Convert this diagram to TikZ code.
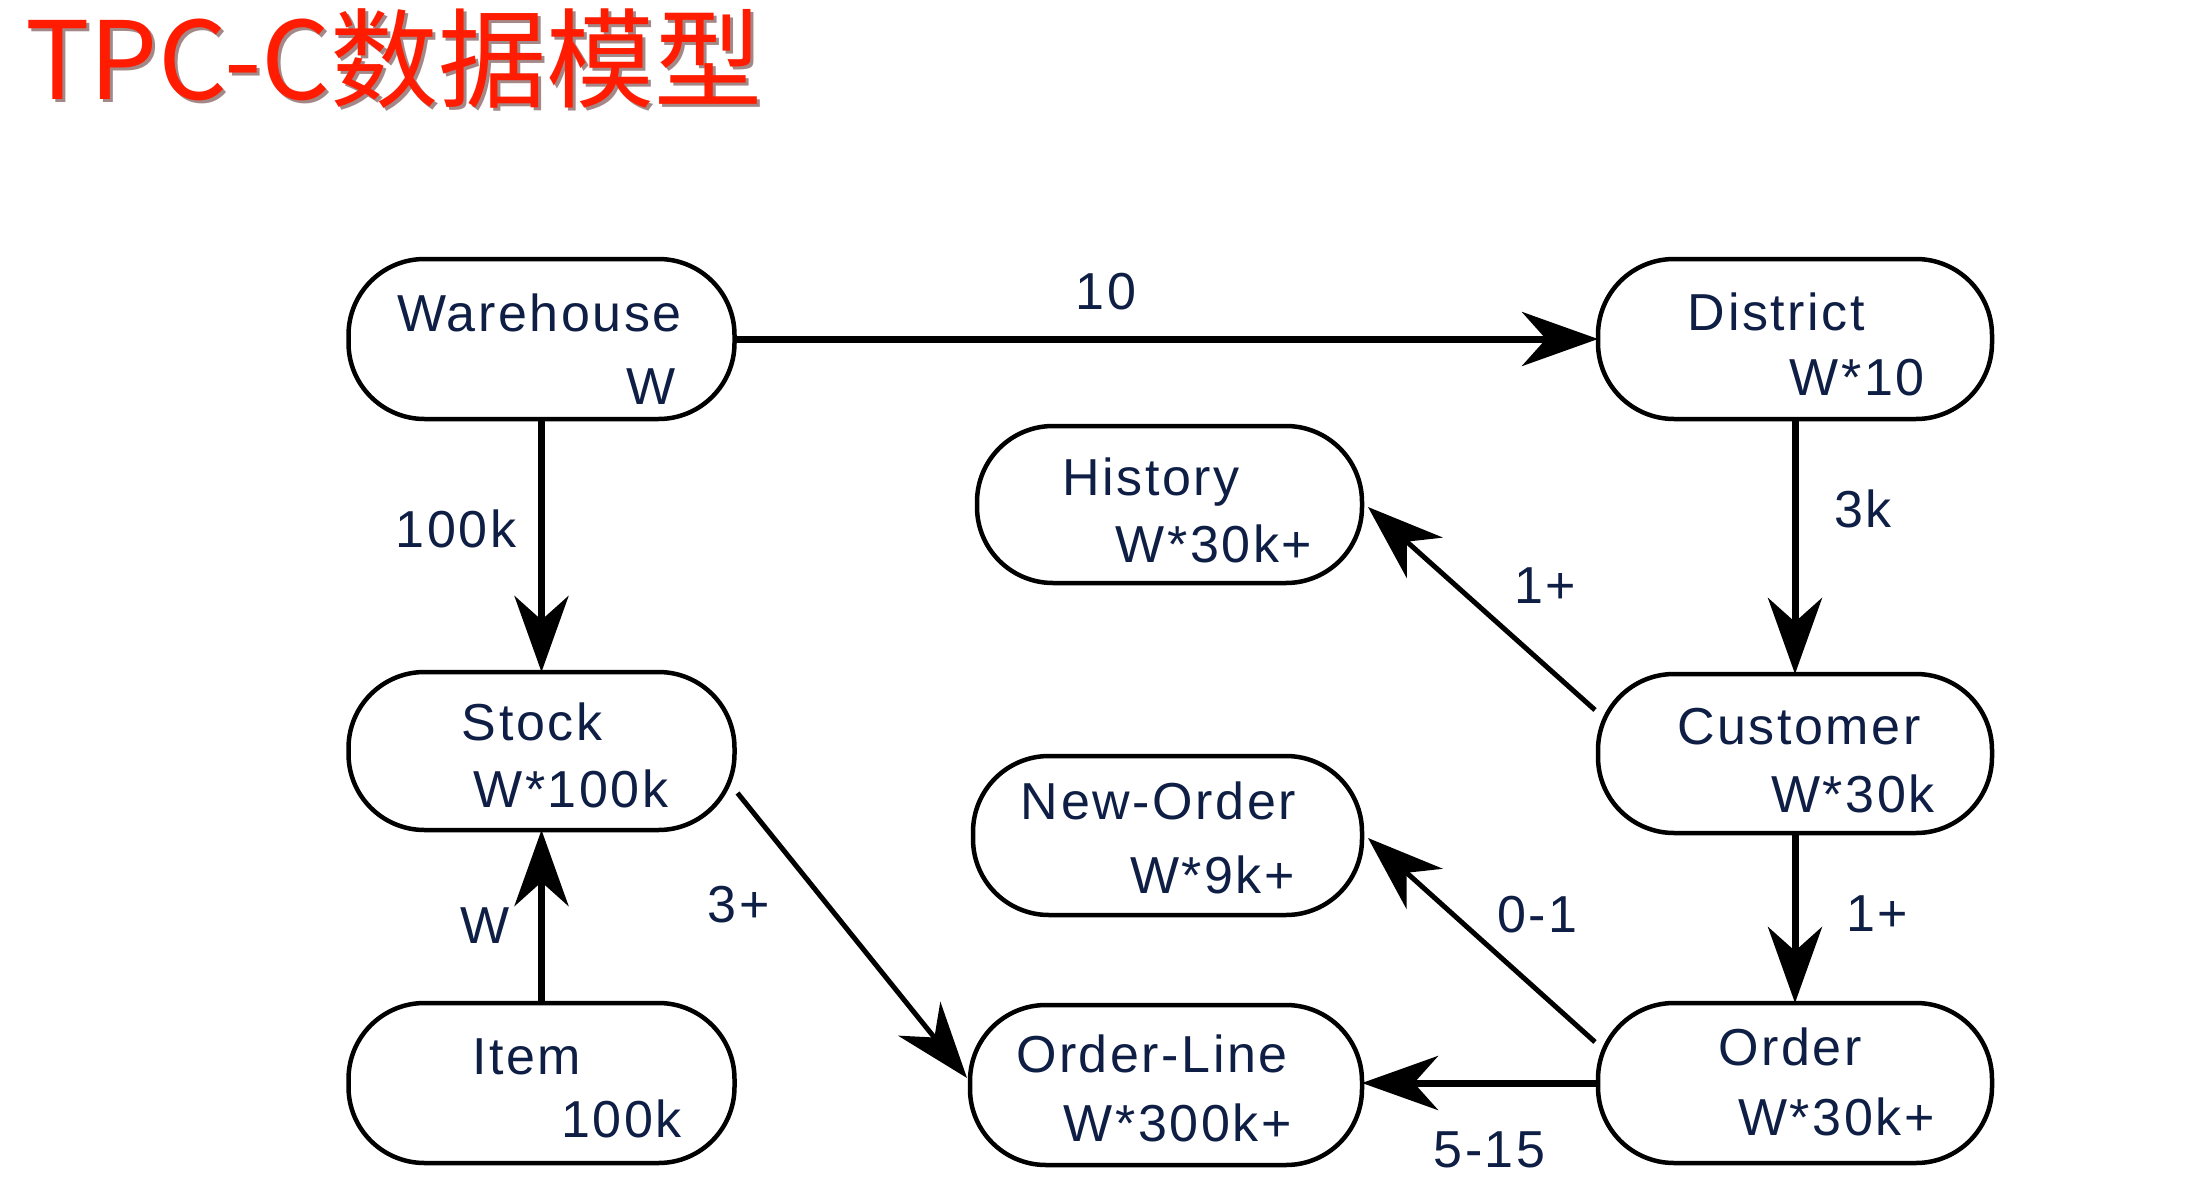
\documentclass[tikz,border=0pt]{standalone}
\usepackage{fontspec}
\setmainfont{Liberation Sans}[LetterSpace=5]
\newfontfamily\cjk{Noto Sans CJK SC}
\usetikzlibrary{arrows.meta,calc}
\definecolor{ink}{RGB}{14,30,68}
\definecolor{titlered}{RGB}{255,28,0}
\definecolor{shadowgray}{RGB}{90,40,40}
\tikzset{
  ent/.style={draw=black, line width=4.5pt, rounded corners=76pt,
    minimum width=388pt, minimum height=159pt, inner sep=0pt, outer sep=0pt},
  txt/.style={inner sep=0pt, anchor=base, text=ink, font=\fontsize{52}{60}\selectfont},
  lbl/.style={inner sep=0pt, anchor=base, text=ink, font=\fontsize{52}{60}\selectfont},
  rel/.style={draw=black, line width=7pt,
    -{Stealth[length=76pt, width=54pt, inset=24pt]}},
  reld/.style={draw=black, line width=5pt,
    -{Stealth[length=76pt, width=54pt, inset=24pt]}}
}
\begin{document}
\begin{tikzpicture}[x=1pt,y=-1pt]
\useasboundingbox (0,0) rectangle (2188,1191);
\fill[white] (0,0) rectangle (2188,1191);

% title
\node[inner sep=0pt, anchor=base west, text=shadowgray, opacity=0.55,
  font=\cjk\fontsize{108}{118}\selectfont] (titleshadow) at (28,102) {TPC-C数据模型};
\node[inner sep=0pt, anchor=base west, text=titlered,
  font=\cjk\fontsize{108}{118}\selectfont] (title) at (25,99) {TPC-C数据模型};

% entities
\node[ent, minimum width=386pt, minimum height=160pt] (wh) at (541.5,339) {};
\node[ent, minimum width=394pt, minimum height=160pt] (di) at (1795,339) {};
\node[ent, minimum width=385pt, minimum height=157pt] (hi) at (1169.5,504.5) {};
\node[ent, minimum width=386pt, minimum height=158pt] (st) at (541.5,751) {};
\node[ent, minimum width=394pt, minimum height=159pt] (cu) at (1795,753.5) {};
\node[ent, minimum width=389pt, minimum height=159pt] (ne) at (1167.5,835.5) {};
\node[ent, minimum width=386pt, minimum height=160pt] (it) at (541.5,1083) {};
\node[ent, minimum width=392pt, minimum height=160pt] (ol) at (1166,1085) {};
\node[ent, minimum width=394pt, minimum height=160pt] (or) at (1795,1083) {};

% entity texts
\node[txt] (wh1) at (539.5,331) {Warehouse};
\node[txt] (wh2) at (651,404) {W};
\node[txt] (di1) at (1776.5,330) {District};
\node[txt] (di2) at (1857,395) {W*10};
\node[txt] (hi1) at (1151,495) {History};
\node[txt] (hi2) at (1214,562) {W*30k+};
\node[txt] (st1) at (532,740) {Stock};
\node[txt] (st2) at (571,807) {W*100k};
\node[txt] (cu1) at (1799,744) {Customer};
\node[txt] (cu2) at (1853,812) {W*30k};
\node[txt] (ne1) at (1158.5,819) {New-Order};
\node[txt] (ne2) at (1212.5,893) {W*9k+};
\node[txt] (it1) at (526.5,1074) {Item};
\node[txt] (it2) at (621.5,1137) {100k};
\node[txt] (ol1) at (1152,1072) {Order-Line};
\node[txt] (ol2) at (1178,1141) {W*300k+};
\node[txt] (or1) at (1790,1065) {Order};
\node[txt] (or2) at (1836.5,1135) {W*30k+};

% connector end points
\coordinate (cuA) at ($(cu.west)+(-3,-43.5)$);
\coordinate (hiA) at ($(hi.east)+(6,2.5)$);
\coordinate (orA) at ($(or.west)+(-3,-41)$);
\coordinate (neA) at ($(ne.east)+(6,2.5)$);
\coordinate (stA) at ($(st.east)+(3,42)$);
\coordinate (olA) at ($(ol.west)+(-3,-7)$);

% connectors
\draw[rel] (wh.east) -- (di.west);
\draw[rel] (wh.south) -- (st.north);
\draw[rel] (di.south) -- (cu.north);
\draw[rel] (cu.south) -- (or.north);
\draw[rel] (it.north) -- (st.south);
\draw[rel] (or.west) -- (ol.east |- or.west);
\draw[reld] (cuA) -- (hiA);
\draw[reld] (orA) -- (neA);
\draw[reld] (stA) -- (olA);

% connector labels
\node[lbl] (l10) at (1106,309) {10};
\node[lbl] (l100k) at (456,547) {100k};
\node[lbl] (l3k) at (1863,527) {3k};
\node[lbl] (l1h) at (1545,603) {1+};
\node[lbl] (lw) at (485.5,943) {W};
\node[lbl] (l3p) at (738.5,922) {3+};
\node[lbl] (l01) at (1537.5,932) {0-1};
\node[lbl] (l1o) at (1877,931) {1+};
\node[lbl] (l515) at (1489.5,1167) {5-15};
\end{tikzpicture}
\end{document}
